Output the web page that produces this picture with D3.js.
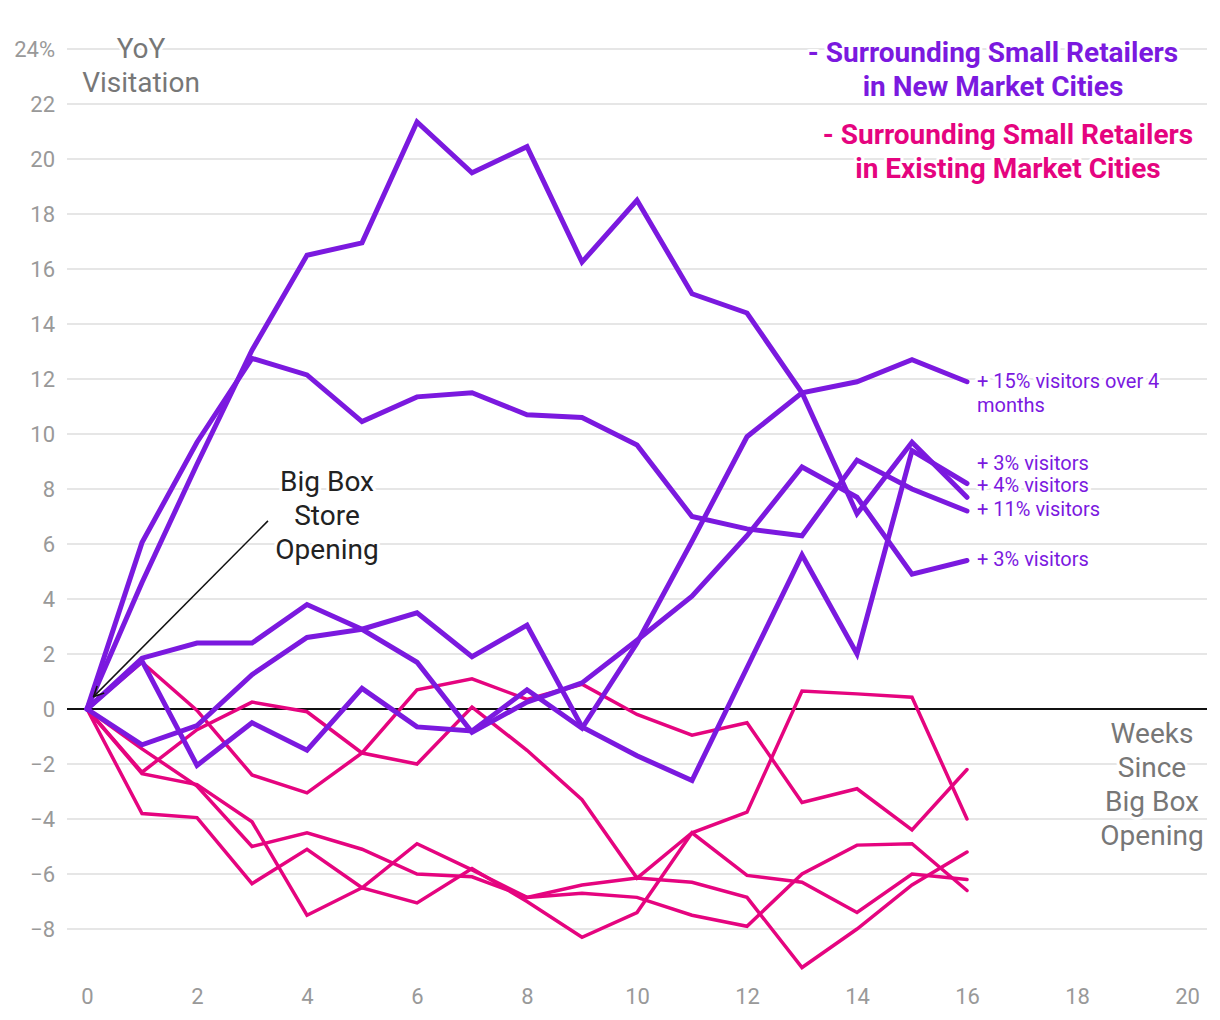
<!DOCTYPE html>
<html>
<head>
<meta charset="utf-8">
<script src="https://cdn.jsdelivr.net/npm/d3@7"></script>
<style>
  html, body { margin: 0; padding: 0; background: #fff; }
  svg { display: block; font-family: Roboto, "Noto Sans", sans-serif; }
  .halo { paint-order: stroke; stroke: #fff; stroke-width: 6px; stroke-linejoin: round; }
</style>
</head>
<body>
<svg id="chart" width="1220" height="1020"></svg>
<script>
// ---------- data ----------
const weeks = [0,1,2,3,4,5,6,7,8,9,10,11,12,13,14,15,16];

// Surrounding small retailers in NEW market cities (purple)
const newA = [0, 4.6, 8.9, 13.05, 16.5, 16.95, 21.35, 19.5, 20.45, 16.25, 18.5, 15.1, 14.4, 11.5, 7.1, 9.7, 7.7];
const newB = [0, 6.05, 9.7, 12.75, 12.15, 10.45, 11.35, 11.5, 10.7, 10.6, 9.6, 7.0, 6.55, 6.3, 9.05, 8.0, 7.2];
const newC = [0, 1.85, 2.4, 2.4, 3.8, 2.9, 3.5, 1.9, 3.05, -0.65, -1.7, -2.6, 1.5, 5.6, 2.0, 9.4, 8.2];
const newD = [0, -1.3, -0.6, 1.25, 2.6, 2.9, 1.7, -0.85, 0.25, 0.95, 2.5, 4.1, 6.3, 8.8, 7.7, 4.9, 5.4];
const newE = [0, 1.75, -2.05, -0.5, -1.5, 0.75, -0.65, -0.8, 0.7, -0.7, 2.4, 6.1, 9.9, 11.5, 11.9, 12.7, 11.9];

// Surrounding small retailers in EXISTING market cities (pink)
const exA = [0, 1.7, -0.05, -2.4, -3.05, -1.6, 0.7, 1.1, 0.35, 0.9, -0.2, -0.95, -0.5, -3.4, -2.9, -4.4, -2.2];
const exB = [0, -2.3, -0.75, 0.25, -0.1, -1.6, -2.0, 0.07, -1.5, -3.3, -6.15, -4.5, -3.75, 0.65, 0.55, 0.43, -4.0];
const exC = [0, -3.8, -3.95, -6.35, -5.1, -6.5, -4.9, -5.85, -6.85, -6.7, -6.85, -7.5, -7.9, -6.0, -4.95, -4.9, -6.6];
const exD = [0, -2.35, -2.75, -4.1, -7.5, -6.5, -7.05, -5.8, -7.0, -8.3, -7.4, -4.5, -6.05, -6.3, -7.4, -6.0, -6.2];
const exE = [0, -1.45, -2.8, -5.0, -4.5, -5.1, -6.0, -6.1, -6.85, -6.4, -6.15, -6.3, -6.85, -9.4, -8.0, -6.4, -5.2];

const newSeries = [newA, newB, newC, newD, newE];
const existingSeries = [exA, exB, exC, exD, exE];

// end-of-line labels (text, anchored value in % units)
const endLabels = [
  {lines: ["+ 15% visitors over 4", "months"], value: 11.9},
  {lines: ["+ 3% visitors"], value: 8.9},
  {lines: ["+ 4% visitors"], value: 8.1},
  {lines: ["+ 11% visitors"], value: 7.25},
  {lines: ["+ 3% visitors"], value: 5.42}
];

const yTicks = [-8,-6,-4,-2,0,2,4,6,8,10,12,14,16,18,20,22,24];
const xTicks = [0,2,4,6,8,10,12,14,16,18,20];

const legendNew = ["- Surrounding Small Retailers", "in New Market Cities"];
const legendExisting = ["- Surrounding Small Retailers", "in Existing Market Cities"];
const yTitle = ["YoY", "Visitation"];
const xTitle = ["Weeks", "Since", "Big Box", "Opening"];
const annotation = ["Big Box", "Store", "Opening"];
const arrowFrom = {x: 3.29, y: 6.84};
const arrowTo = {x: 0.12, y: 0.45};

// ---------- drawing ----------
const PURPLE = "#7b19df";
const PINK = "#e5047f";

const svg = d3.select("#chart");
const x = d3.scaleLinear().domain([0, 20]).range([87, 1187]);
const y = d3.scaleLinear().domain([-8, 24]).range([929, 49]);

const gridLeft = x(0) - 20, gridRight = x(20) + 20;

// gridlines
svg.append("g").selectAll("line").data(yTicks.filter(d => d !== 0)).join("line")
  .attr("x1", gridLeft).attr("x2", gridRight)
  .attr("y1", d => y(d)).attr("y2", d => y(d))
  .attr("stroke", "#e6e6e6").attr("stroke-width", 2);

// y axis labels
const yAxis = d3.axisLeft(y).tickValues(yTicks).tickSize(0).tickPadding(0)
  .tickFormat(d => d === 24 ? "24%" : d3.format("")(d).replace("-", "\u2212"));
const yg = svg.append("g").attr("transform", `translate(${x(0) - 32},0)`).call(yAxis);
yg.select(".domain").remove();
yg.selectAll("text").attr("font-size", 22).attr("fill", "#999")
  .attr("font-family", "Roboto, sans-serif");

// x axis labels
const xAxis = d3.axisBottom(x).tickValues(xTicks).tickSize(0).tickPadding(0);
const xg = svg.append("g").attr("transform", `translate(0,${y(-8) + 67})`).call(xAxis);
xg.select(".domain").remove();
xg.selectAll("text").attr("font-size", 22).attr("fill", "#999")
  .attr("font-family", "Roboto, sans-serif").attr("dy", "0.35em");

// zero line
svg.append("line").attr("x1", gridLeft).attr("x2", gridRight)
  .attr("y1", y(0)).attr("y2", y(0)).attr("stroke", "#111").attr("stroke-width", 2);

const line = d3.line().x((d, i) => x(weeks[i])).y(d => y(d));

svg.append("g").selectAll("path").data(existingSeries).join("path")
  .attr("d", line).attr("fill", "none").attr("stroke", PINK)
  .attr("stroke-width", 3.5).attr("stroke-linejoin", "miter").attr("stroke-linecap", "round");

svg.append("g").selectAll("path").data(newSeries).join("path")
  .attr("d", line).attr("fill", "none").attr("stroke", PURPLE)
  .attr("stroke-width", 5).attr("stroke-linejoin", "miter").attr("stroke-linecap", "round");

// helper for multi-line text
function multiText(lines, cx, firstBaseline, lh, opts) {
  const t = svg.append("text").attr("class", "halo")
    .attr("x", cx).attr("y", firstBaseline)
    .attr("text-anchor", opts.anchor || "middle")
    .attr("font-size", opts.size).attr("font-weight", opts.weight || 400)
    .attr("fill", opts.fill);
  lines.forEach((s, i) => {
    t.append("tspan").attr("x", cx).attr("y", firstBaseline + i * lh).text(s);
  });
  return t;
}

// axis titles
multiText(yTitle, 141, 58, 34, {size: 28, fill: "#777"});
multiText(xTitle, 1152, 743, 34, {size: 28, fill: "#777"});

// legend
multiText(legendNew, 993, 62, 34, {size: 28, weight: 700, fill: PURPLE});
multiText(legendExisting, 1008, 144, 34, {size: 28, weight: 700, fill: PINK});

// end labels
endLabels.forEach(l => {
  multiText(l.lines, x(16) + 10, y(l.value) + 6, 24, {size: 20, fill: PURPLE, anchor: "start"});
});

// annotation
multiText(annotation, 327, 491, 34, {size: 28, fill: "#222"});

// arrow
svg.append("defs").append("marker").attr("id", "arrowhead")
  .attr("viewBox", "0 0 12 12").attr("refX", 11).attr("refY", 6)
  .attr("markerWidth", 12).attr("markerHeight", 12).attr("markerUnits", "userSpaceOnUse")
  .attr("orient", "auto")
  .append("path").attr("d", "M1,1 L11,6 L1,11").attr("fill", "none")
  .attr("stroke", "#111").attr("stroke-width", 1.6);

svg.append("line")
  .attr("x1", x(arrowFrom.x)).attr("y1", y(arrowFrom.y))
  .attr("x2", x(arrowTo.x)).attr("y2", y(arrowTo.y))
  .attr("stroke", "#111").attr("stroke-width", 1.5)
  .attr("marker-end", "url(#arrowhead)");
</script>
</body>
</html>
